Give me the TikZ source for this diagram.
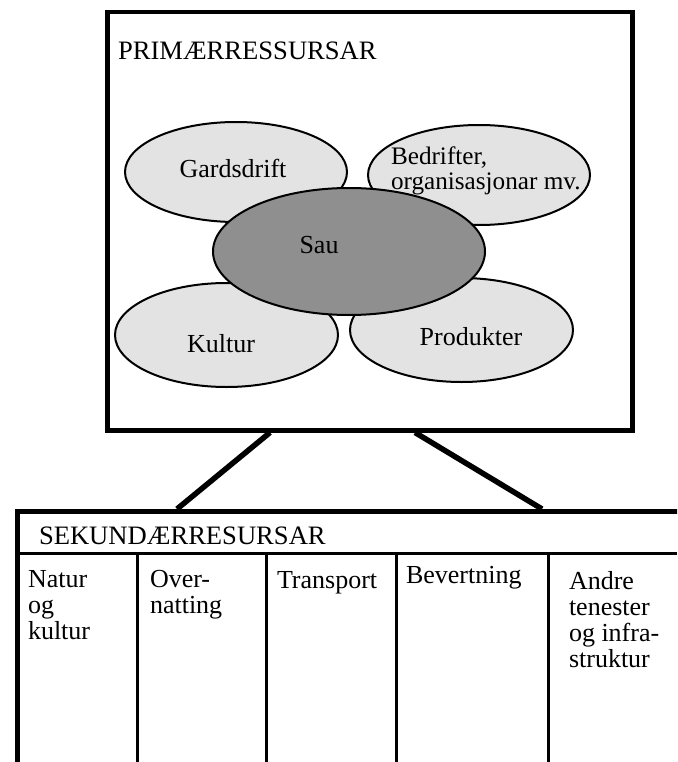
\documentclass[tikz,border=0pt]{standalone}
\usepackage{fontspec}
\setmainfont{Liberation Serif}
\usetikzlibrary{shapes.geometric}
\begin{document}
\begin{tikzpicture}[x=1pt,y=-1pt,
  txt/.style={font=\fontsize{26}{26}\selectfont, inner sep=0pt, outer sep=0pt},
  head/.style={txt, font=\fontsize{26.6}{27}\selectfont, anchor=base west},
  cell/.style={txt, anchor=north west, align=left},
  blob/.style={ellipse, draw=black, line width=2pt, inner sep=0pt},
  light/.style={blob, fill=black!11},
  dark/.style={blob, fill=black!44},
  frame/.style={draw=black, line width=4.5pt, inner sep=0pt, anchor=north west},
  conn/.style={draw=black, line width=5.5pt},
  divider/.style={draw=black, line width=3pt}
]
\useasboundingbox (0,0) rectangle (677,762);
\fill[white] (0,0) rectangle (677,762);
\clip (0,0) rectangle (677,762);

% primary box
\node[frame, minimum width=525pt, minimum height=418pt] (prim) at (105,10) {};
% secondary box (extends beyond the page)
\node[frame, minimum width=720pt, minimum height=320pt] (sek) at (15,509) {};

% connectors
\coordinate (xa) at (270,0);
\coordinate (xb) at (177,0);
\coordinate (xc) at (415,0);
\coordinate (xd) at (542,0);
\draw[conn] (prim.south -| xa) -- (sek.north -| xb);
\draw[conn] (prim.south -| xc) -- (sek.north -| xd);

% header line and column dividers
\coordinate (hl) at (0,553);
\coordinate (hr) at (677,553);
\draw[divider] (sek.west |- hl) -- (hr);
\coordinate (d1) at (137,553);
\coordinate (d2) at (266,553);
\coordinate (d3) at (396,553);
\coordinate (d4) at (548,553);
\coordinate (bot) at (0,770);
\draw[divider] (d1) -- (d1 |- bot);
\draw[divider] (d2) -- (d2 |- bot);
\draw[divider] (d3) -- (d3 |- bot);
\draw[divider] (d4) -- (d4 |- bot);

% ellipses
\node[light, minimum width=222pt, minimum height=100pt] (egard) at (236,172) {};
\node[light, minimum width=222pt, minimum height=100pt] (ebed) at (479,175) {};
\node[light, minimum width=223pt, minimum height=104pt] (ekul) at (226.5,335) {};
\node[light, minimum width=223pt, minimum height=104pt] (eprod) at (461.5,330) {};
\node[dark, minimum width=272pt, minimum height=127pt] (esau) at (349,251.5) {};

% texts, primary
\node[head] (tprim) at (118,60) {PRIMÆRRESSURSAR};
\node[txt] (tgard) at (233,168) {Gardsdrift};
\node[cell, font=\fontsize{25.2}{25}\selectfont] (tbed) at (391,147) {Bedrifter,\\organisasjonar mv.};
\node[txt] (tsau) at (319,245) {Sau};
\node[txt] (tkul) at (221,344) {Kultur};
\node[txt] (tprod) at (471,337) {Produkter};

% texts, secondary
\node[head] (tsek) at (39,544) {SEKUNDÆRRESURSAR};
\node[cell] (c1) at (28,570) {Natur\\og\\kultur};
\node[cell] (c2) at (150,570) {Over-\\natting};
\node[cell] (c3) at (277,571) {Transport};
\node[cell] (c4) at (406,566) {Bevertning};
\node[cell] (c5) at (569,571) {Andre\\tenester\\og infra-\\struktur};
\end{tikzpicture}
\end{document}
